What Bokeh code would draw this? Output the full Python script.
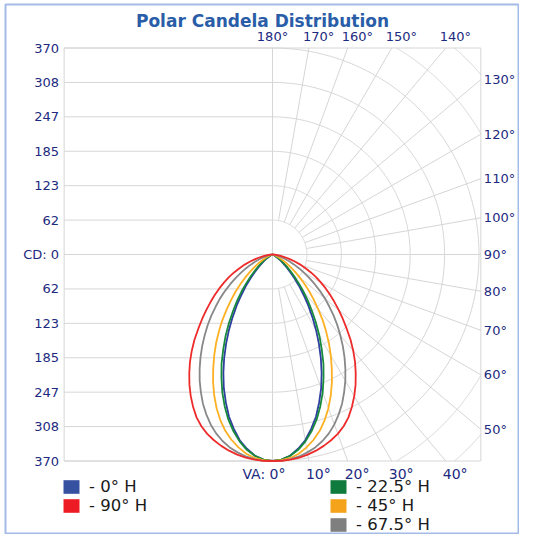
import numpy as np
from bokeh.plotting import figure
from bokeh.models import ColumnDataSource, Legend, LegendItem, Range1d
from bokeh.core.properties import value
from bokeh.embed import file_html
from bokeh.resources import INLINE

# ---------------- data ----------------
vertical_angles = [0, 2.5, 5, 7.5, 10, 12.5, 15, 17.5, 20, 22.5, 25, 27.5, 30, 32.5, 35, 37.5,
                   40, 42.5, 45, 47.5, 50, 52.5, 55, 57.5, 60, 62.5, 65, 67.5, 70, 72.5, 75,
                   77.5, 80, 82.5, 85, 87.5, 90]
cd_h0 = [370, 368, 362, 351, 338, 320, 301, 278, 255, 230, 205, 180, 156, 133, 112, 92,
         75, 59, 46, 35, 26, 19, 13, 9, 6, 4, 2, 1, 1, 0, 0, 0, 0, 0, 0, 0, 0]
cd_h22_5 = [370, 368, 362, 353, 340, 324, 306, 285, 263, 239, 216, 191, 168, 145, 123, 104,
            86, 69, 55, 43, 33, 24, 17, 12, 8, 5, 3, 2, 1, 1, 0, 0, 0, 0, 0, 0, 0]
cd_h45 = [370, 369, 366, 360, 351, 340, 327, 311, 293, 273, 252, 230, 209, 188, 167, 147,
          127, 109, 93, 77, 63, 51, 40, 31, 23, 17, 12, 8, 5, 3, 2, 1, 0, 0, 0, 0, 0]
cd_h67_5 = [370, 370, 368, 365, 360, 354, 346, 336, 324, 310, 295, 278, 261, 243, 225, 207,
            189, 172, 155, 138, 123, 107, 92, 78, 65, 54, 43, 34, 25, 18, 13, 8, 5, 2, 1, 0, 0]
cd_h90 = [370, 370, 369, 367, 364, 360, 355, 349, 342, 333, 322, 308, 293, 277, 260, 243,
          225, 207, 188, 171, 155, 140, 126, 113, 100, 88, 76, 64, 53, 42, 32, 23, 15, 9, 4, 1, 0]

series_names = ["- 0° H", "- 22.5° H", "- 45° H", "- 67.5° H", "- 90° H"]
series_values = [cd_h0, cd_h22_5, cd_h45, cd_h67_5, cd_h90]
series_colors = ["#2f3f9f", "#178a3c", "#fdb022", "#888888", "#ee2b2b"]
swatch_colors = ["#3651a0", "#0e7a3b", "#f5a31b", "#7f7f7f", "#ed1c24"]

cd_max = 370
cd_divisions = 6
cd_tick_labels = ["370", "308", "247", "185", "123", "62", "CD: 0",
                  "62", "123", "185", "247", "308", "370"]
top_angles = [170, 160, 150, 140]
right_angles = [130, 120, 110, 100, 90, 80, 70, 60, 50]
bottom_angles = [10, 20, 30, 40]
title_text = "Polar Candela Distribution"

# ---------------- figure ----------------
W, H = 519, 534
K = 206.5 / cd_max            # pixels per candela
CX, CY = 272, 254             # canvas position of the polar origin
p = figure(width=W, height=H,
           x_range=Range1d(-CX / K, (W - CX) / K),
           y_range=Range1d(-(H - CY) / K, CY / K),
           output_backend="svg", toolbar_location=None,
           x_axis_location=None, y_axis_location=None,
           min_border=0, outline_line_color=None,
           background_fill_color="white", border_fill_color="white")
p.grid.visible = False


def sx(px):   # canvas pixel -> data x
    return (px - CX) / K


def sy(py):   # canvas pixel -> data y
    return (CY - py) / K


# outer panel border
p.quad(left=[sx(5)], right=[sx(518)], top=[sy(4)], bottom=[sy(533)],
       fill_color=None, line_color="#a3bbe6", line_width=2)

GRID = "#d6d6d6"
STEP = cd_max / cd_divisions
XBOX = cd_max * 1.009
YBOX = cd_max

# frame of the grid
p.quad(left=[-XBOX], right=[XBOX], bottom=[-YBOX], top=[YBOX],
       fill_color=None, line_color=GRID, line_width=1)

# left half: horizontal lines at the candela ticks
tick_vals = [STEP * k for k in range(cd_divisions, -cd_divisions - 1, -1)]
p.segment(x0=[-XBOX] * len(tick_vals), y0=tick_vals, x1=[0] * len(tick_vals), y1=tick_vals,
          line_color=GRID, line_width=1)
# centre vertical line (0° / 180°) and horizontal 90° line
p.segment(x0=[0, 0], y0=[-YBOX, 0], x1=[0, XBOX], y1=[YBOX, 0], line_color=GRID, line_width=1)


def arc_pieces(r):
    pieces = [(0.0, np.pi)]
    if r > YBOX:
        a = np.arccos(YBOX / r)
        pieces = [(a, np.pi - a)]
    if r > XBOX:
        b = np.arcsin(XBOX / r)
        new = []
        for s, e in pieces:
            for s2, e2 in [(0.0, b), (np.pi - b, np.pi)]:
                s3, e3 = max(s, s2), min(e, e2)
                if e3 > s3:
                    new.append((s3, e3))
        pieces = new
    return pieces


n_rings = int(np.floor(np.hypot(XBOX, YBOX) / STEP))
ring_xs, ring_ys = [], []
for k in range(1, n_rings + 1):
    r = k * STEP
    for s, e in arc_pieces(r):
        phi = np.linspace(s, e, 240)
        ring_xs.append(r * np.sin(phi))
        ring_ys.append(-r * np.cos(phi))
p.multi_line(xs=ring_xs, ys=ring_ys, line_color=GRID, line_width=1)

# radial lines every 10°
rad_x0, rad_y0, rad_x1, rad_y1 = [], [], [], []
for a in range(10, 180, 10):
    if a == 90:
        continue
    phi = np.radians(a)
    r_end = min(XBOX / np.sin(phi), YBOX / abs(np.cos(phi)))
    rad_x0.append(STEP * np.sin(phi)); rad_y0.append(-STEP * np.cos(phi))
    rad_x1.append(r_end * np.sin(phi)); rad_y1.append(-r_end * np.cos(phi))
p.segment(x0=rad_x0, y0=rad_y0, x1=rad_x1, y1=rad_y1, line_color=GRID, line_width=1)

# ---------------- candela curves ----------------
theta = np.radians(vertical_angles)
for cd, color in zip(series_values, series_colors):
    cd = np.asarray(cd, dtype=float)
    cx = cd * np.sin(theta)
    cy = -cd * np.cos(theta)
    xs = np.concatenate([-cx[::-1], cx[1:]])
    ys = np.concatenate([cy[::-1], cy[1:]])
    p.line(xs, ys, line_color=color, line_width=1.8, line_join="round")

# ---------------- labels ----------------
LABEL = "#1c2a80"
FONT = value("DejaVu Sans")

left_src = ColumnDataSource(dict(x=[-XBOX] * len(tick_vals), y=tick_vals, t=cd_tick_labels))
p.text(x="x", y="y", text="t", source=left_src, text_font=FONT, text_font_size=value("13px"),
       text_color=LABEL, text_align=value("right"), text_baseline=value("middle"), x_offset=-5)

top_src = ColumnDataSource(dict(
    x=[YBOX * np.tan(np.radians(180 - a)) for a in top_angles],
    y=[YBOX] * len(top_angles), t=[f"{a}°" for a in top_angles]))
p.text(x="x", y="y", text="t", source=top_src, text_font=FONT, text_font_size=value("13px"),
       text_color=LABEL, text_align=value("left"), text_baseline=value("middle"),
       x_offset=-6, y_offset=-12)
p.text(x=[0], y=[YBOX], text=["180°"], text_font=FONT, text_font_size=value("13px"),
       text_color=LABEL, text_align=value("center"), text_baseline=value("middle"), y_offset=-12)

right_src = ColumnDataSource(dict(
    x=[XBOX] * len(right_angles),
    y=[-XBOX * np.cos(np.radians(a)) / np.sin(np.radians(a)) for a in right_angles],
    t=[f"{a}°" for a in right_angles]))
p.text(x="x", y="y", text="t", source=right_src, text_font=FONT, text_font_size=value("13px"),
       text_color=LABEL, text_align=value("left"), text_baseline=value("middle"), x_offset=3)

bottom_src = ColumnDataSource(dict(
    x=[YBOX * np.tan(np.radians(a)) for a in bottom_angles],
    y=[-YBOX] * len(bottom_angles), t=[f"{a}°" for a in bottom_angles]))
p.text(x="x", y="y", text="t", source=bottom_src, text_font=FONT, text_font_size=value("14px"),
       text_color=LABEL, text_align=value("left"), text_baseline=value("middle"),
       x_offset=-3, y_offset=13)
p.text(x=[0], y=[-YBOX], text=["VA: 0°"], text_font=FONT, text_font_size=value("14px"),
       text_color=LABEL, text_align=value("right"), text_baseline=value("middle"),
       x_offset=13, y_offset=13)

# title
p.text(x=[sx(262)], y=[sy(20)], text=[title_text], text_font=FONT, text_font_style="bold",
       text_font_size=value("17px"), text_color="#2a5da8", text_align=value("center"),
       text_baseline=value("middle"))

# ---------------- legend ----------------
# legend swatches: renderers with no visible geometry
swatches = [p.quad(left=[np.nan], right=[np.nan], top=[np.nan], bottom=[np.nan],
                   fill_color=c, line_color=None) for c in swatch_colors]
items = {n: LegendItem(label=n, renderers=[r]) for n, r in zip(series_names, swatches)}
legend_style = dict(border_line_color=None, background_fill_alpha=0, padding=0, spacing=0,
                    margin=0, glyph_width=20, glyph_height=17, label_standoff=8, label_height=19,
                    label_text_font="DejaVu Sans", label_text_font_size="16.5px",
                    label_text_color="#1a1a1a", orientation="vertical")
leg1 = Legend(items=[items["- 0° H"], items["- 90° H"]], location=(61, 19), **legend_style)
leg2 = Legend(items=[items["- 22.5° H"], items["- 45° H"], items["- 67.5° H"]],
              location=(328, 0), **legend_style)
p.add_layout(leg1)
p.add_layout(leg2)

html = file_html(p, INLINE, title=title_text)
with open("out.html", "w", encoding="utf-8") as f:
    f.write(html)
